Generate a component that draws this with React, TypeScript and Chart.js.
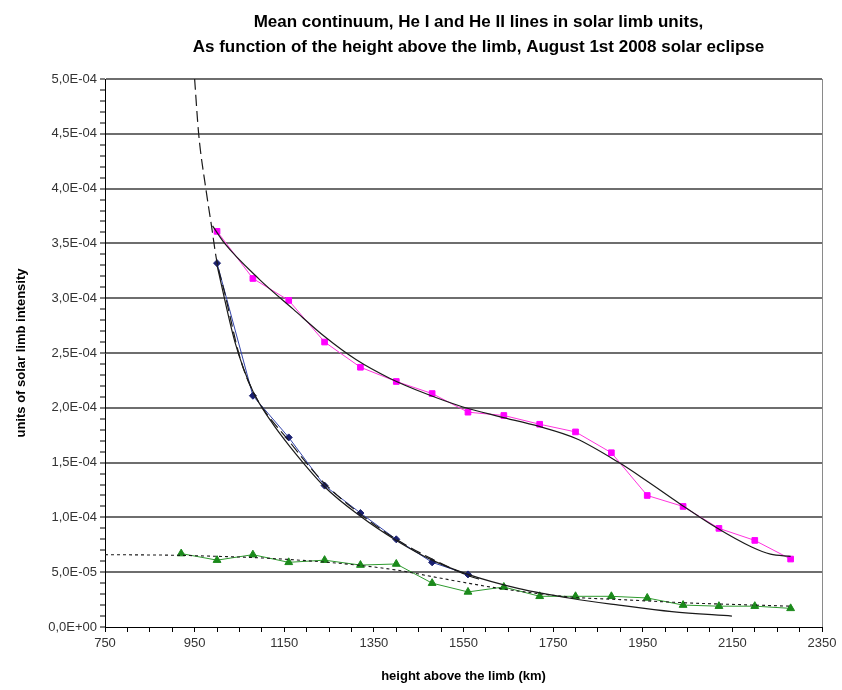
import React, { useEffect, useRef } from "react";
import { Chart, registerables } from "chart.js";

Chart.register(...registerables);

// ---------- data ----------
const magentaHeights = [1000, 1080, 1160, 1240, 1320, 1400, 1480, 1560, 1640, 1720, 1800, 1880, 1960, 2040, 2120, 2200, 2280];
const magentaValues = [3.61e-4, 3.18e-4, 2.98e-4, 2.60e-4, 2.37e-4, 2.24e-4, 2.13e-4, 1.96e-4, 1.93e-4, 1.85e-4, 1.78e-4, 1.59e-4, 1.20e-4, 1.10e-4, 0.90e-4, 0.79e-4, 0.62e-4];

const navyHeights = [1000, 1080, 1160, 1240, 1320, 1400, 1480, 1560];
const navyValues = [3.32e-4, 2.11e-4, 1.73e-4, 1.29e-4, 1.04e-4, 0.80e-4, 0.59e-4, 0.48e-4];

const greenHeights = [920, 1000, 1080, 1160, 1240, 1320, 1400, 1480, 1560, 1640, 1720, 1800, 1880, 1960, 2040, 2120, 2200, 2280];
const greenValues = [0.67e-4, 0.61e-4, 0.66e-4, 0.59e-4, 0.61e-4, 0.565e-4, 0.575e-4, 0.40e-4, 0.32e-4, 0.365e-4, 0.28e-4, 0.28e-4, 0.28e-4, 0.265e-4, 0.20e-4, 0.19e-4, 0.19e-4, 0.17e-4];

// trend lines
const magentaTrendHeights = [990, 1017, 1095, 1170, 1240, 1310, 1385, 1465, 1547, 1630, 1719, 1801, 1897, 1960, 2031, 2113, 2193, 2235, 2280];
const magentaTrendValues = [3.66e-4, 3.50e-4, 3.17e-4, 2.90e-4, 2.65e-4, 2.44e-4, 2.27e-4, 2.13e-4, 2.01e-4, 1.92e-4, 1.83e-4, 1.72e-4, 1.50e-4, 1.33e-4, 1.13e-4, 0.91e-4, 0.73e-4, 0.665e-4, 0.645e-4];

const navyDashHeights = [950, 959, 975, 988, 999, 1017, 1051, 1080, 1160, 1240, 1320, 1400, 1480, 1560, 1590];
const navyDashValues = [5.0e-4, 4.5e-4, 4.0e-4, 3.65e-4, 3.35e-4, 3.05e-4, 2.46e-4, 2.15e-4, 1.70e-4, 1.31e-4, 1.03e-4, 0.80e-4, 0.62e-4, 0.47e-4, 0.43e-4];

const navyTrendHeights = [1000, 1040, 1080, 1120, 1160, 1240, 1320, 1400, 1480, 1560, 1674, 1792, 1897, 2015, 2149];
const navyTrendValues = [3.30e-4, 2.60e-4, 2.15e-4, 1.88e-4, 1.66e-4, 1.28e-4, 1.01e-4, 0.79e-4, 0.61e-4, 0.48e-4, 0.35e-4, 0.26e-4, 0.20e-4, 0.14e-4, 0.10e-4];

const greenTrendHeights = [750, 900, 1000, 1100, 1200, 1300, 1400, 1480, 1560, 1650, 1800, 1900, 2050, 2200, 2280];
const greenTrendValues = [0.66e-4, 0.655e-4, 0.645e-4, 0.63e-4, 0.605e-4, 0.57e-4, 0.52e-4, 0.46e-4, 0.40e-4, 0.34e-4, 0.27e-4, 0.25e-4, 0.22e-4, 0.20e-4, 0.19e-4];

const titleLines = [
  "Mean continuum, He I and He II lines in solar limb units,",
  "As function of the height above the limb, August 1st 2008 solar eclipse",
];
const xTitle = "height above the limb (km)";
const yTitle = "units of solar limb intensity";

const X_MIN = 750, X_MAX = 2350, X_MAJOR = 200, X_MINOR = 50;
const Y_MIN = 0, Y_MAX = 5e-4, Y_MAJOR = 5e-5, Y_MINOR = 1e-5;

const zip = (xs: number[], ys: number[]) => xs.map((x, i) => ({ x, y: ys[i] }));

const isMultiple = (v: number, base: number, step: number) => {
  const k = (v - base) / step;
  return Math.abs(k - Math.round(k)) < 1e-6;
};

const sci = (v: number) => {
  if (Math.abs(v) < 1e-12) return "0,0E+00";
  let e = Math.floor(Math.log10(Math.abs(v)) + 1e-9);
  let m = v / Math.pow(10, e);
  let ms = m.toFixed(1);
  if (ms === "10.0") { e += 1; ms = "1.0"; }
  return ms.replace(".", ",") + "E" + (e < 0 ? "-" : "+") + String(Math.abs(e)).padStart(2, "0");
};

const FONT = "'Liberation Sans', Arial, sans-serif";

const titlePlugin = {
  id: "excelTitle",
  afterDraw(chart: any) {
    const { ctx, chartArea } = chart;
    ctx.save();
    ctx.fillStyle = "#000";
    ctx.font = `bold 17px ${FONT}`;
    ctx.textAlign = "center";
    ctx.textBaseline = "middle";
    const cx = (chartArea.left + chartArea.right) / 2 + 15;
    ctx.fillText(titleLines[0], cx, 22);
    ctx.fillText(titleLines[1], cx, 47);
    ctx.restore();
  },
};

export default function App() {
  const ref = useRef<HTMLCanvasElement | null>(null);
  useEffect(() => {
    if (!ref.current) return;
    const lineDs = (data: any[], color: string, extra: any = {}) => ({
      data,
      borderColor: color,
      backgroundColor: color,
      borderWidth: 1,
      pointRadius: 0,
      tension: 0,
      order: 0,
      ...extra,
    });
    const chart = new Chart(ref.current, {
      type: "line",
      data: {
        datasets: [
          lineDs(zip(magentaTrendHeights, magentaTrendValues), "#1a1a1a", { cubicInterpolationMode: "monotone", borderWidth: 1.2 }),
          lineDs(zip(navyDashHeights, navyDashValues), "#1a1a1a", { cubicInterpolationMode: "monotone", borderDash: [11, 5], borderWidth: 1.2 }),
          lineDs(zip(navyTrendHeights, navyTrendValues), "#1a1a1a", { cubicInterpolationMode: "monotone", borderWidth: 1.2 }),
          lineDs(zip(greenTrendHeights, greenTrendValues), "#1a1a1a", { cubicInterpolationMode: "monotone", borderDash: [3, 3], borderWidth: 1.1 }),
          {
            data: zip(magentaHeights, magentaValues),
            borderColor: "#ff33dd",
            backgroundColor: "#ff00ff",
            borderWidth: 1,
            pointStyle: "rect",
            pointRadius: 4,
            pointBorderColor: "#ff00ff",
            tension: 0,
            order: 1,
          },
          {
            data: zip(navyHeights, navyValues),
            borderColor: "#3344aa",
            backgroundColor: "#1a2070",
            borderWidth: 1,
            pointStyle: "rectRot",
            pointRadius: 3.5,
            pointBorderColor: "#1a2070",
            tension: 0,
            order: 1,
          },
          {
            data: zip(greenHeights, greenValues),
            borderColor: "#2e9a2e",
            backgroundColor: "#1b8a1b",
            borderWidth: 1,
            pointStyle: "triangle",
            pointRadius: 4.5,
            pointBorderColor: "#1b8a1b",
            tension: 0,
            order: 1,
          },
        ],
      },
      options: {
        responsive: false,
        animation: false,
        layout: { padding: { top: 79, right: 20, left: 0, bottom: 0 } },
        plugins: {
          legend: { display: false },
          title: { display: false },
          tooltip: { enabled: false },
        },
        scales: {
          x: {
            type: "linear",
            min: X_MIN,
            max: X_MAX,
            afterFit: (s: any) => { s.height = 63; },
            afterBuildTicks: (s: any) => {
              const t = [];
              for (let v = X_MIN; v <= X_MAX + 1e-9; v += X_MINOR) t.push({ value: v });
              s.ticks = t;
            },
            ticks: {
              autoSkip: false,
              maxRotation: 0,
              padding: 4,
              color: "#333",
              font: { family: FONT, size: 13 },
              callback: (v: any) => (isMultiple(Number(v), X_MIN, X_MAJOR) ? String(v) : ""),
            },
            grid: {
              drawOnChartArea: true,
              color: (c: any) => (c.tick && c.tick.value === X_MAX ? "#8a8a8a" : "rgba(0,0,0,0)"),
              tickColor: "#000",
              tickLength: 5,
              lineWidth: 1,
            },
            border: { display: true, color: "#000", width: 1 },
            title: {
              display: true,
              text: xTitle,
              color: "#000",
              font: { family: FONT, size: 13, weight: "bold" },
              padding: { top: 4, bottom: 6 },
            },
          },
          y: {
            type: "linear",
            min: Y_MIN,
            max: Y_MAX,
            afterFit: (s: any) => { s.width = 105; },
            afterBuildTicks: (s: any) => {
              const t = [];
              for (let i = 0; i <= Math.round((Y_MAX - Y_MIN) / Y_MINOR); i++) t.push({ value: Y_MIN + i * Y_MINOR });
              s.ticks = t;
            },
            ticks: {
              autoSkip: false,
              padding: 3,
              color: "#333",
              font: { family: FONT, size: 13 },
              callback: (v: any) => (isMultiple(Number(v), 0, Y_MAJOR) ? sci(Number(v)) : ""),
            },
            grid: {
              drawOnChartArea: true,
              color: (c: any) => {
                const v = c.tick ? c.tick.value : 0;
                return v > 1e-9 && isMultiple(v, 0, Y_MAJOR) ? "#6e6e6e" : "rgba(0,0,0,0)";
              },
              lineWidth: 2,
              tickColor: "#000",
              tickWidth: 1,
              tickLength: 5,
            },
            border: { display: true, color: "#000", width: 1 },
            title: {
              display: true,
              text: yTitle,
              color: "#000",
              font: { family: FONT, size: 13, weight: "bold" },
              padding: { top: 14, bottom: 0 },
            },
          },
        },
      },
      plugins: [titlePlugin],
    } as any);
    return () => chart.destroy();
  }, []);
  return (
    <div style={{ position: "absolute", left: 0, top: 0, width: 842, height: 690, background: "#fff" }}>
      <canvas ref={ref} width={842} height={690} style={{ display: "block" }} />
    </div>
  );
}
